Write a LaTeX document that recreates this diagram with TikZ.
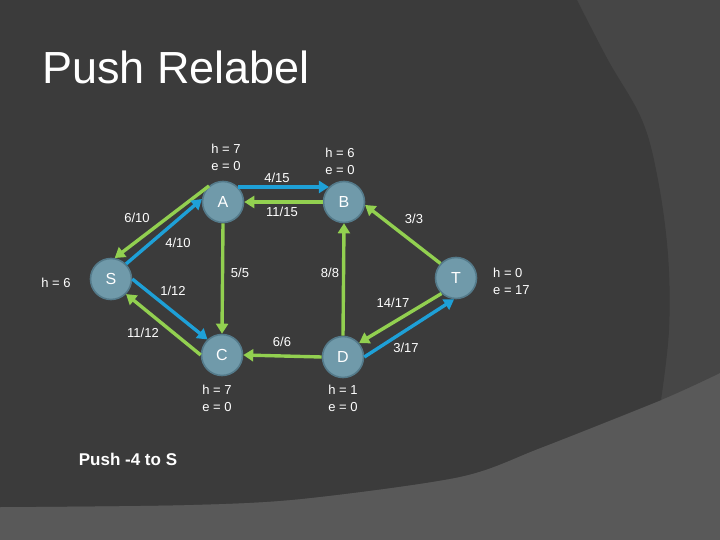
\documentclass[tikz,border=0pt]{standalone}
\usepackage{fontspec}
\setmainfont{Liberation Sans}
\usetikzlibrary{arrows.meta}
\definecolor{bglight}{RGB}{89,89,89}
\definecolor{bgmid}{RGB}{70,70,70}
\definecolor{bgdark}{RGB}{59,59,59}
\definecolor{flowgreen}{RGB}{146,208,80}
\definecolor{flowblue}{RGB}{30,160,215}
\definecolor{vfill}{RGB}{112,154,170}
\definecolor{vline}{RGB}{84,122,138}
\tikzset{
  vertex/.style={circle, fill=vfill, draw=vline, line width=1.6pt, minimum size=41pt, inner sep=0pt, text=white, font=\fontsize{16}{16}\selectfont},
  flow/.style={line width=3.4pt, -{Triangle[length=10pt,width=12pt]}},
  gflow/.style={flow, draw=flowgreen},
  bflow/.style={flow, draw=flowblue},
  caplabel/.style={text=white, inner sep=0pt, font=\fontsize{13}{13}\selectfont},
  hlabel/.style={text=white, inner sep=0pt, align=left, font=\fontsize{13}{17}\selectfont},
}
\begin{document}
\begin{tikzpicture}[x=1pt,y=-1pt]
\useasboundingbox (0,0) rectangle (720,540);
% background
\fill[bglight] (0,0) rectangle (720,540);
\fill[bgmid] (0,0) -- (720,0) -- (720,373) -- plot[smooth, tension=0.5] coordinates {(720,373) (661,400) (540,448) (459,477) (300,499) (184,505) (0,507)} -- cycle;
\fill[bgdark] (0,0) -- plot[smooth, tension=0.6] coordinates {(577,0) (608,60) (642,120) (658,180) (668,255) (669,330) (661,400)} -- plot[smooth, tension=0.5] coordinates {(661,400) (540,448) (459,477) (300,499) (184,505) (0,507)} -- cycle;

% title
\node[text=white, inner sep=0pt, anchor=base west, font=\fontsize{45}{45}\selectfont] (title) at (42,84) {Push Relabel};

% vertices
\node[vertex] (A) at (223,202) {A};
\node[vertex] (B) at (344,202) {B};
\node[vertex] (S) at (111,279) {S};
\node[vertex] (C) at (222,355) {C};
\node[vertex] (D) at (343,357) {D};
\node[vertex] (T) at (456,278) {T};

% flows
\draw[bflow] (A.45) -- (B.135);
\draw[gflow] (B.west) -- (A.east);
\draw[gflow] (A.131) -- (S.80);
\draw[bflow] (S.45) -- (A.172);
\draw[bflow] (S.east) -- (C.133);
\draw[gflow] (C.west) -- (S.-45);
\draw[gflow] (A.south) -- (C.north);
\draw[gflow] (D.west) -- (C.east);
\draw[gflow] (D.north) -- (B.south);
\draw[gflow] (T.137) -- (B.-8);
\draw[gflow] (T.227) -- (D.41);
\draw[bflow] (D.east) -- (T.-95);

% capacities
\node[caplabel] (l415) at (277,178) {4/15};
\node[caplabel] (l1115) at (282,212) {11/15};
\node[caplabel] (l610) at (137,218) {6/10};
\node[caplabel] (l410) at (178,243) {4/10};
\node[caplabel] (l55) at (240,273) {5/5};
\node[caplabel] (l112) at (173,291) {1/12};
\node[caplabel] (l1112) at (143,333) {11/12};
\node[caplabel] (l66) at (282,342) {6/6};
\node[caplabel] (l88) at (330,273) {8/8};
\node[caplabel] (l1417) at (393,303) {14/17};
\node[caplabel] (l317) at (406,348) {3/17};
\node[caplabel] (l33) at (414,219) {3/3};

% heights / excess
\node[hlabel] (hA) at (226,157) {h = 7\\e = 0};
\node[hlabel] (hB) at (340,161) {h = 6\\e = 0};
\node[hlabel] (hS) at (56,283) {h = 6};
\node[hlabel, anchor=west] (hT) at (493,281) {h = 0\\e = 17};
\node[hlabel] (hC) at (217,398) {h = 7\\e = 0};
\node[hlabel] (hD) at (343,398) {h = 1\\e = 0};

\node[text=white, inner sep=0pt, font=\bfseries\fontsize{17}{17}\selectfont] (push) at (128,459) {Push -4 to S};
\end{tikzpicture}
\end{document}
